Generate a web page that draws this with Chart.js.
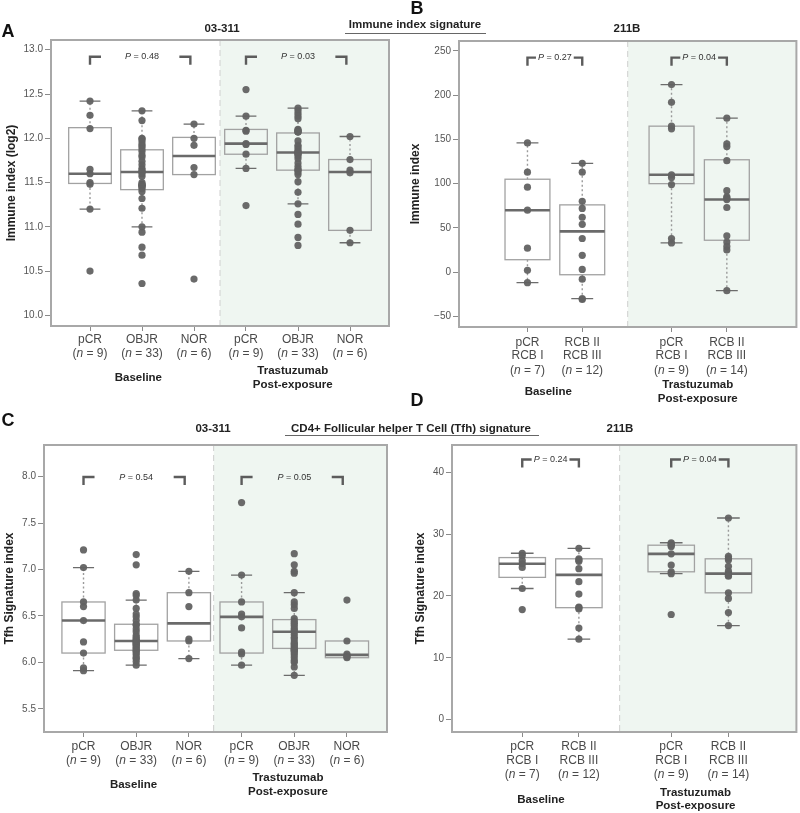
<!DOCTYPE html>
<html>
<head>
<meta charset="utf-8">
<script src="https://cdn.jsdelivr.net/npm/chart.js@4.4.0/dist/chart.umd.min.js"></script>
<style>
  body { margin: 0; background: #fff; }
  #page { position: relative; width: 800px; height: 813px; overflow: hidden; font-family: "Liberation Sans", Arial, sans-serif; color: #222; }
  canvas { position: absolute; }
  .t { position: absolute; font-weight: bold; line-height: 1; white-space: nowrap; transform: translate(-50%, -50%); }
  .letter { font-size: 18px; color: #111; }
  .title { font-size: 11.5px; }
  .rule { position: absolute; height: 0; border-top: 1.5px solid #666; }
</style>
</head>
<body>
<div id="page">
  <canvas id="cA" width="400" height="406" style="left:0;top:0"></canvas>
  <canvas id="cB" width="400" height="406" style="left:400px;top:0"></canvas>
  <canvas id="cC" width="400" height="407" style="left:0;top:406px"></canvas>
  <canvas id="cD" width="400" height="407" style="left:400px;top:406px"></canvas>

  <div class="t letter" style="left:8px;top:31px">A</div>
  <div class="t letter" style="left:417px;top:8px">B</div>
  <div class="t letter" style="left:8px;top:420px">C</div>
  <div class="t letter" style="left:417px;top:400px">D</div>

  <div class="t title" style="left:222px;top:29px">03-311</div>
  <div class="t title" style="left:627px;top:29px">211B</div>
  <div class="t title" style="left:415px;top:25px">Immune index signature</div>
  <div class="rule" style="left:345px;top:33px;width:141px"></div>

  <div class="t title" style="left:213px;top:429px">03-311</div>
  <div class="t title" style="left:620px;top:429px">211B</div>
  <div class="t title" style="left:411px;top:429px">CD4+ Follicular helper T Cell (Tfh) signature</div>
  <div class="rule" style="left:285px;top:435px;width:254px"></div>
</div>
<script>
// ---- categories ----
const cohortGroups = ["pCR", "OBJR", "NOR", "pCR", "OBJR", "NOR"];
const cohortN = [9, 33, 6, 9, 33, 6];
const rcbGroups = [["pCR", "RCB I"], ["RCB II", "RCB III"], ["pCR", "RCB I"], ["RCB II", "RCB III"]];
const rcbN = [7, 12, 9, 14];
const timepoints = ["Baseline", ["Trastuzumab", "Post-exposure"]];

// ---- A: immune index, 03-311 ----
const immuneA = [
  [12.42, 12.26, 12.11, 11.65, 11.60, 11.50, 11.48, 11.20, 10.50],
  [12.31, 12.20, 12.00, 11.99, 11.96, 11.93, 11.91, 11.88, 11.85, 11.81, 11.79, 11.74, 11.70, 11.66, 11.64, 11.62, 11.60,
   11.57, 11.50, 11.48, 11.47, 11.47, 11.46, 11.45, 11.43, 11.40, 11.32, 11.21, 11.00, 10.94, 10.77, 10.68, 10.36],
  [12.16, 12.00, 11.92, 11.67, 11.59, 10.41],
  [12.55, 12.25, 12.09, 12.08, 11.94, 11.93, 11.82, 11.66, 11.24],
  [12.34, 12.31, 12.28, 12.25, 12.22, 12.10, 12.09, 12.08, 12.07, 12.07, 11.97, 11.92, 11.90, 11.87, 11.85, 11.84, 11.83,
   11.82, 11.80, 11.77, 11.72, 11.68, 11.65, 11.64, 11.62, 11.59, 11.51, 11.39, 11.26, 11.14, 11.03, 10.88, 10.79],
  [12.02, 11.76, 11.64, 11.61, 10.96, 10.82]
];
const immuneA_q1 = [11.49, 11.42, 11.59, 11.82, 11.64, 10.96];
const immuneA_med = [11.60, 11.62, 11.80, 11.94, 11.84, 11.62];
const immuneA_q3 = [12.12, 11.87, 12.01, 12.10, 12.06, 11.76];
const immuneA_lo = [11.20, 11.00, 11.59, 11.66, 11.26, 10.82];
const immuneA_hi = [12.42, 12.31, 12.16, 12.25, 12.34, 12.02];
const immuneA_p = ["0.48", "0.03"];
const immuneA_ticks = [10, 10.5, 11, 11.5, 12, 12.5, 13];

// ---- B: immune index, 211B ----
const immuneB = [
  [146, 113, 96, 70, 27, 2, -12],
  [123, 113, 80, 72, 62, 54, 38, 19, 3, -8, -30, -31],
  [212, 192, 165, 162, 110, 107, 99, 38, 33],
  [174, 145, 142, 126, 92, 85, 84, 82, 73, 41, 34, 29, 25, -21]
];
const immuneB_q1 = [14, -3, 100, 36];
const immuneB_med = [70, 46, 110, 82];
const immuneB_q3 = [105, 76, 165, 127];
const immuneB_lo = [-12, -30, 33, -21];
const immuneB_hi = [146, 123, 212, 174];
const immuneB_p = ["0.27", "0.04"];
const immuneB_ticks = [-50, 0, 50, 100, 150, 200, 250];

// ---- C: Tfh signature, 03-311 ----
const tfhC = [
  [7.21, 7.02, 6.65, 6.60, 6.45, 6.22, 6.10, 5.94, 5.91],
  [7.16, 7.05, 6.74, 6.72, 6.67, 6.58, 6.52, 6.49, 6.45, 6.41, 6.40, 6.36, 6.33, 6.29, 6.27, 6.25, 6.24,
   6.23, 6.22, 6.21, 6.20, 6.19, 6.18, 6.16, 6.15, 6.13, 6.12, 6.10, 6.08, 6.05, 6.04, 6.01, 5.97],
  [6.98, 6.75, 6.60, 6.25, 6.23, 6.04],
  [7.72, 6.94, 6.65, 6.52, 6.49, 6.37, 6.11, 6.09, 5.97],
  [7.17, 7.05, 6.98, 6.96, 6.75, 6.65, 6.62, 6.58, 6.47, 6.44, 6.42, 6.40, 6.37, 6.35, 6.33, 6.30, 6.27,
   6.25, 6.22, 6.20, 6.19, 6.17, 6.15, 6.14, 6.13, 6.12, 6.10, 6.08, 6.05, 6.02, 6.00, 5.95, 5.86],
  [6.67, 6.23, 6.09, 6.07, 6.06, 6.05]
];
const tfhC_q1 = [6.10, 6.13, 6.23, 6.10, 6.15, 6.05];
const tfhC_med = [6.45, 6.23, 6.42, 6.49, 6.33, 6.08];
const tfhC_q3 = [6.65, 6.41, 6.75, 6.65, 6.46, 6.23];
const tfhC_lo = [5.91, 5.97, 6.04, 5.97, 5.86, 6.05];
const tfhC_hi = [7.02, 6.67, 6.98, 6.94, 6.75, 6.23];
const tfhC_p = ["0.54", "0.05"];
const tfhC_ticks = [5.5, 6, 6.5, 7, 7.5, 8];

// ---- D: Tfh signature, 211B ----
const tfhD = [
  [26.9, 26.5, 25.7, 25.2, 24.6, 21.2, 17.8],
  [27.7, 26.0, 25.8, 25.6, 24.4, 22.3, 20.3, 18.2, 18.1, 17.9, 14.8, 13.0],
  [28.6, 28.4, 28.2, 28.0, 26.8, 25.0, 23.9, 23.6, 17.0],
  [32.6, 26.4, 26.1, 25.8, 24.8, 24.0, 23.6, 23.5, 23.3, 23.2, 20.5, 19.6, 17.3, 15.2]
];
const tfhD_q1 = [23.0, 18.1, 23.9, 20.5];
const tfhD_med = [25.2, 23.4, 26.8, 23.6];
const tfhD_q3 = [26.2, 26.0, 28.2, 26.0];
const tfhD_lo = [21.2, 13.0, 23.6, 15.2];
const tfhD_hi = [26.9, 27.7, 28.6, 32.6];
const tfhD_p = ["0.24", "0.04"];
const tfhD_ticks = [0, 10, 20, 30, 40];

const FONT = '"Liberation Sans", Arial, sans-serif';
Chart.defaults.font.family = FONT;

function mixText(ctx, parts, cx, cy, size, color) {
  let total = 0;
  const ws = parts.map(p => {
    ctx.font = (p[1] ? 'italic ' : '') + size + 'px ' + FONT;
    const w = ctx.measureText(p[0]).width;
    total += w;
    return w;
  });
  let xx = cx - total / 2;
  ctx.fillStyle = color;
  ctx.textAlign = 'left';
  ctx.textBaseline = 'middle';
  parts.forEach((p, i) => {
    ctx.font = (p[1] ? 'italic ' : '') + size + 'px ' + FONT;
    ctx.fillText(p[0], xx, cy);
    xx += ws[i];
  });
  return total;
}

function boxPlugin(cfg) {
  return {
    id: 'boxes',
    beforeDatasetsDraw(chart) {
      const { ctx, chartArea: a, scales: { x, y } } = chart;
      ctx.save();
      const xd = x.getPixelForValue(cfg.divider);
      ctx.fillStyle = '#eff6f1';
      ctx.fillRect(xd, a.top, a.right - xd, a.bottom - a.top);
      ctx.strokeStyle = '#cfcfcf';
      ctx.lineWidth = 1;
      ctx.setLineDash([6, 4]);
      ctx.beginPath(); ctx.moveTo(xd, a.top); ctx.lineTo(xd, a.bottom); ctx.stroke();

      cfg.pos.forEach((p, i) => {
        const cx = x.getPixelForValue(p);
        const hw = x.getPixelForValue(p + 0.41) - cx;
        const cw = x.getPixelForValue(p + 0.2) - cx;
        const y1 = y.getPixelForValue(cfg.q1[i]);
        const y3 = y.getPixelForValue(cfg.q3[i]);
        const ym = y.getPixelForValue(cfg.med[i]);
        const ylo = y.getPixelForValue(cfg.lo[i]);
        const yhi = y.getPixelForValue(cfg.hi[i]);
        // dotted whiskers
        ctx.setLineDash([2, 2.5]);
        ctx.strokeStyle = '#9a9a9a';
        ctx.lineWidth = 1.4;
        ctx.beginPath();
        if (cfg.hi[i] > cfg.q3[i]) { ctx.moveTo(cx, y3); ctx.lineTo(cx, yhi); }
        if (cfg.lo[i] < cfg.q1[i]) { ctx.moveTo(cx, y1); ctx.lineTo(cx, ylo); }
        ctx.stroke();
        ctx.setLineDash([]);
        // caps
        ctx.strokeStyle = '#6c6c6c';
        ctx.lineWidth = 1.3;
        ctx.beginPath();
        if (cfg.hi[i] > cfg.q3[i]) { ctx.moveTo(cx - cw, yhi); ctx.lineTo(cx + cw, yhi); }
        if (cfg.lo[i] < cfg.q1[i]) { ctx.moveTo(cx - cw, ylo); ctx.lineTo(cx + cw, ylo); }
        ctx.stroke();
        // box
        ctx.strokeStyle = '#a2a2a2';
        ctx.lineWidth = 1.3;
        ctx.strokeRect(cx - hw, y3, hw * 2, y1 - y3);
        // median
        ctx.strokeStyle = '#6a6a6a';
        ctx.lineWidth = 2.6;
        ctx.beginPath(); ctx.moveTo(cx - hw, ym); ctx.lineTo(cx + hw, ym); ctx.stroke();
      });
      ctx.restore();
    },
    afterDraw(chart) {
      const { ctx, chartArea: a, scales: { x, y } } = chart;
      ctx.save();
      // frame
      ctx.strokeStyle = '#a8a8a8';
      ctx.lineWidth = 2;
      ctx.strokeRect(a.left, a.top, a.right - a.left, a.bottom - a.top);

      // brackets with P values
      cfg.brackets.forEach((b, k) => {
        const x1 = x.getPixelForValue(b[0]);
        const x2 = x.getPixelForValue(b[1]);
        const xm = x.getPixelForValue(b[2]);
        const yy = y.getPixelForValue(cfg.bracketY);
        const tw = mixText(ctx, [['P', true], [' = ' + cfg.pvals[k], false]], xm, yy, 9, '#333');
        ctx.strokeStyle = '#5c5c5c';
        ctx.lineWidth = 2.4;
        ctx.lineJoin = 'miter';
        const inner1 = cfg.arm ? x1 + cfg.arm : xm - tw / 2 - 2;
        const inner2 = cfg.arm ? x2 - cfg.arm : xm + tw / 2 + 2;
        ctx.beginPath();
        ctx.moveTo(x1, yy + 8); ctx.lineTo(x1, yy); ctx.lineTo(inner1, yy);
        ctx.moveTo(x2, yy + 8); ctx.lineTo(x2, yy); ctx.lineTo(inner2, yy);
        ctx.stroke();
      });

      // category labels
      cfg.pos.forEach((p, i) => {
        const cx = x.getPixelForValue(p);
        const names = [].concat(cfg.names[i]);
        ctx.font = '12px ' + FONT;
        ctx.fillStyle = '#4a4a4a';
        ctx.textAlign = 'center';
        ctx.textBaseline = 'middle';
        names.forEach((s, j) => ctx.fillText(s, cx, a.bottom + cfg.lineY[j]));
        mixText(ctx, [['(', false], ['n', true], [' = ' + cfg.n[i] + ')', false]], cx, a.bottom + cfg.lineY[names.length], 12, '#4a4a4a');
      });

      // timepoint labels
      ctx.font = 'bold 11.5px ' + FONT;
      ctx.fillStyle = '#222';
      ctx.textAlign = 'center';
      ctx.textBaseline = 'middle';
      timepoints.forEach((t, k) => {
        const gx = x.getPixelForValue(cfg.groupX[k]);
        const lines = [].concat(t);
        const ys = lines.length === 1 ? [cfg.baseY] : cfg.postY;
        lines.forEach((s, j) => ctx.fillText(s, gx, a.bottom + ys[j]));
      });
      ctx.restore();
    }
  };
}

function makePanel(id, cfg) {
  const pos = cfg.pos;
  const data = cfg.points.flatMap((arr, i) => arr.map(v => ({ x: pos[i], y: v })));
  const fmt = v => cfg.decimals ? v.toFixed(cfg.decimals) : (v < 0 ? '\u2212' + Math.abs(v) : String(v));
  return new Chart(document.getElementById(id), {
    type: 'scatter',
    data: {
      datasets: [{
        data,
        pointRadius: 3.6,
        pointHoverRadius: 3.6,
        pointBackgroundColor: 'rgba(98,98,98,0.95)',
        pointBorderWidth: 0
      }]
    },
    options: {
      responsive: false,
      animation: false,
      devicePixelRatio: 1,
      events: [],
      layout: { padding: { left: 0, top: cfg.top, right: cfg.right, bottom: 0 } },
      plugins: { legend: { display: false }, tooltip: { enabled: false } },
      scales: {
        x: {
          type: 'linear',
          min: cfg.xMin,
          max: cfg.xMax,
          afterBuildTicks: s => { s.ticks = pos.map(v => ({ value: v })); },
          afterFit: s => { s.height = cfg.xh; },
          ticks: { display: false },
          grid: { drawOnChartArea: false, drawTicks: true, tickLength: 5, color: '#8a8a8a' },
          border: { display: false }
        },
        y: {
          min: cfg.yMin,
          max: cfg.yMax,
          afterBuildTicks: s => { s.ticks = cfg.yTicks.map(v => ({ value: v })); },
          afterFit: s => { s.width = cfg.left; },
          ticks: { color: '#555', font: { size: 10 }, padding: 2, callback: v => fmt(v) },
          grid: { drawOnChartArea: false, drawTicks: true, tickLength: 6, color: '#8a8a8a' },
          border: { display: false },
          title: {
            display: true,
            text: cfg.yTitle,
            color: '#222',
            font: { size: 12, weight: 'bold' },
            padding: { top: cfg.titlePad, bottom: 0 }
          }
        }
      }
    },
    plugins: [boxPlugin(cfg)]
  });
}

const sixPos = [0, 1, 2, 3, 4, 5];
const fourPos = [0, 1, 2.63, 3.64];

makePanel('cA', {
  pos: sixPos, points: immuneA, q1: immuneA_q1, med: immuneA_med, q3: immuneA_q3, lo: immuneA_lo, hi: immuneA_hi,
  pvals: immuneA_p, yTicks: immuneA_ticks, decimals: 1, yTitle: 'Immune index (log2)',
  names: cohortGroups, n: cohortN,
  xMin: -0.75, xMax: 5.75, divider: 2.5, yMin: 9.88, yMax: 13.11,
  left: 51, top: 40, right: 11, xh: 80, titlePad: 4,
  brackets: [[0, 1.93, 1], [3, 4.93, 4]], bracketY: 12.92, arm: 11,
  lineY: [14, 28], baseY: 52, postY: [45, 58.7], groupX: [0.93, 3.9]
});

makePanel('cB', {
  pos: fourPos, points: immuneB, q1: immuneB_q1, med: immuneB_med, q3: immuneB_q3, lo: immuneB_lo, hi: immuneB_hi,
  pvals: immuneB_p, yTicks: immuneB_ticks, decimals: 0, yTitle: 'Immune index',
  names: rcbGroups, n: rcbN,
  xMin: -1.25, xMax: 4.91, divider: 1.83, yMin: -62.1, yMax: 261.3,
  left: 59, top: 41, right: 2, xh: 79, titlePad: 8,
  brackets: [[0, 1, 0.5], [2.63, 3.64, 3.135]], bracketY: 242.5, arm: 0,
  lineY: [15.7, 28.7, 43.3], baseY: 64.7, postY: [58, 72], groupX: [0.38, 3.11]
});

makePanel('cC', {
  pos: sixPos, points: tfhC, q1: tfhC_q1, med: tfhC_med, q3: tfhC_q3, lo: tfhC_lo, hi: tfhC_hi,
  pvals: tfhC_p, yTicks: tfhC_ticks, decimals: 1, yTitle: 'Tfh Signature index',
  names: cohortGroups, n: cohortN,
  xMin: -0.75, xMax: 5.76, divider: 2.47, yMin: 5.25, yMax: 8.34,
  left: 44, top: 39, right: 13, xh: 81, titlePad: 2,
  brackets: [[0, 1.92, 1], [3, 4.92, 4]], bracketY: 7.995, arm: 11,
  lineY: [14.3, 28.3], baseY: 53.3, postY: [46, 60], groupX: [0.95, 3.88]
});

makePanel('cD', {
  pos: fourPos, points: tfhD, q1: tfhD_q1, med: tfhD_med, q3: tfhD_q3, lo: tfhD_lo, hi: tfhD_hi,
  pvals: tfhD_p, yTicks: tfhD_ticks, decimals: 0, yTitle: 'Tfh Signature index',
  names: rcbGroups, n: rcbN,
  xMin: -1.24, xMax: 4.84, divider: 1.72, yMin: -2.0, yMax: 44.4,
  left: 52, top: 39, right: 2, xh: 81, titlePad: 13,
  brackets: [[0, 1, 0.5], [2.63, 3.64, 3.135]], bracketY: 42.05, arm: 0,
  lineY: [14.3, 28.6, 42.6], baseY: 68, postY: [60.6, 74.3], groupX: [0.33, 3.06]
});
</script>
</body>
</html>
